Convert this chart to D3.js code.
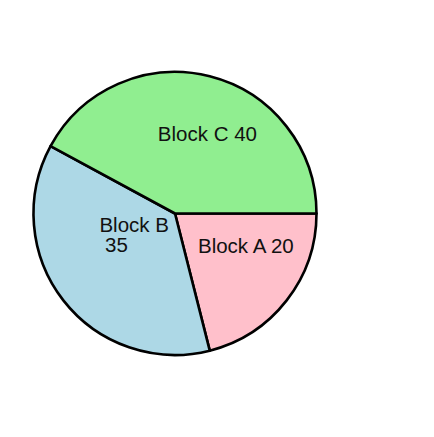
<!DOCTYPE html>
<html>
<head>
<meta charset="utf-8">
<script src="https://cdn.jsdelivr.net/npm/d3@7"></script>
<style>
  html, body { margin: 0; padding: 0; background: #fff; }
  svg { display: block; }
</style>
</head>
<body>
<svg id="chart" width="434" height="437"></svg>
<script>
const categories = ["Block A", "Block B", "Block C"];
const values = [20, 35, 40];
const colors = ["#FFC0CB", "#ADD8E6", "#90EE90"];
const wrapLabels = ["Block B"];

const width = 434, height = 437;
const cx = 175, cy = 213.5, radius = 141.5;
const labelShift = [15, -11.5];

const data = categories.map((c, i) => ({ category: c, value: values[i], color: colors[i] }));

const svg = d3.select("#chart");
const g = svg.append("g").attr("transform", `translate(${cx},${cy})`);

const pie = d3.pie()
  .value(d => d.value)
  .sort(null)
  .startAngle(Math.PI / 2)
  .endAngle(Math.PI / 2 + 2 * Math.PI);

const arc = d3.arc().innerRadius(0).outerRadius(radius);
const arcs = pie(data);

g.selectAll("path.slice")
  .data(arcs)
  .join("path")
  .attr("class", "slice")
  .attr("d", arc)
  .attr("fill", d => d.data.color)
  .attr("stroke", "#000")
  .attr("stroke-width", 2.6)
  .attr("stroke-linejoin", "round");

const fontSize = 20.5;
const lineH = 20;

arcs.forEach(a => {
  const [x0, y0] = arc.centroid(a);
  const x = x0 + labelShift[0], y = y0 + labelShift[1];
  const label = a.data.category + " " + a.data.value;
  const t = g.append("text")
    .attr("font-family", "'Liberation Sans', Arial, Helvetica, sans-serif")
    .attr("font-size", fontSize)
    .attr("fill", "#111")
    .style("white-space", "pre");
  if (wrapLabels.includes(a.data.category)) {
    const lines = [a.data.category, " " + a.data.value];
    const spans = lines.map((ln, i) => t.append("tspan")
      .attr("x", 0)
      .attr("y", y + 0.3 * fontSize - (lines.length - 1 - i) * lineH)
      .text(ln));
    const w = Math.max(...spans.map(s => s.node().getComputedTextLength()));
    spans.forEach(s => s.attr("x", x - w / 2));
    t.attr("text-anchor", "start");
  } else {
    t.attr("text-anchor", "middle")
      .attr("x", x)
      .attr("y", y)
      .attr("dy", "0.35em")
      .text(label);
  }
});
</script>
</body>
</html>
